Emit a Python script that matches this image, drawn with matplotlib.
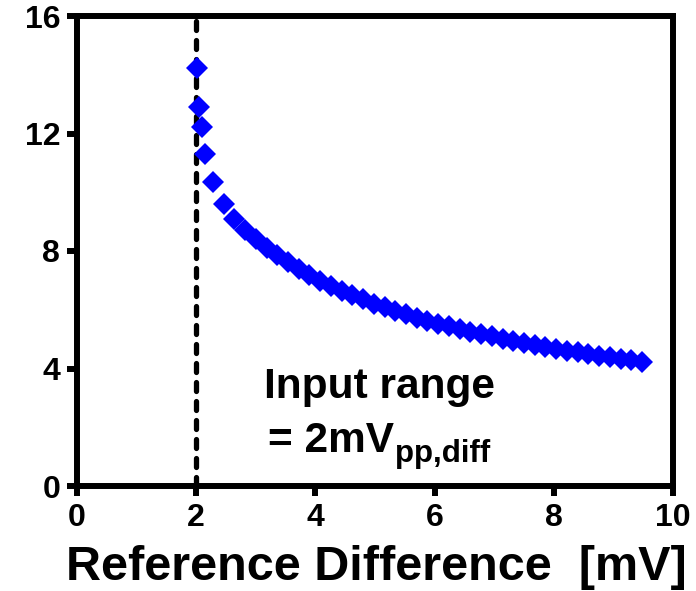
import matplotlib
matplotlib.use("Agg")
import matplotlib.pyplot as plt

plt.rcParams['font.family'] = ['Liberation Sans', 'DejaVu Sans']
plt.rcParams['font.weight'] = 'bold'

# Data
ref_diff_mv = [2.02, 2.05, 2.09, 2.15, 2.28, 2.46, 2.64, 2.82, 3.00, 3.18,
               3.36, 3.54, 3.72, 3.90, 4.08, 4.26, 4.44, 4.62, 4.80, 4.98,
               5.16, 5.34, 5.52, 5.70, 5.88, 6.06, 6.24, 6.42, 6.60, 6.78,
               6.96, 7.14, 7.32, 7.50, 7.68, 7.86, 8.04, 8.22, 8.40, 8.58,
               8.76, 8.94, 9.12, 9.30, 9.48]
values = [14.22, 12.91, 12.23, 11.30, 10.36, 9.60, 9.09, 8.71, 8.40, 8.11,
          7.85, 7.61, 7.39, 7.18, 6.99, 6.81, 6.65, 6.49, 6.35, 6.21,
          6.08, 5.96, 5.84, 5.73, 5.62, 5.52, 5.43, 5.34, 5.25, 5.17,
          5.09, 5.01, 4.94, 4.86, 4.80, 4.73, 4.67, 4.61, 4.55, 4.49,
          4.43, 4.38, 4.33, 4.28, 4.23]
input_range_mv = 2
x_ticks = [0, 2, 4, 6, 8, 10]
y_ticks = [0, 4, 8, 12, 16]

fig = plt.figure(figsize=(6.96, 5.91), dpi=100)
ax = fig.add_axes([77/696, 1 - 486/591, 596/696, 470/591])

ax.plot(ref_diff_mv, values, linestyle='none', marker='D', markersize=11.5,
        color='#0000ff', markeredgewidth=0, zorder=3)

ax.plot([input_range_mv, input_range_mv], [0, 16], color='black', lw=3.8,
        linestyle=(0, (1.7, 1.9)), dash_capstyle='round', zorder=2)

ax.set_xlim(0, 10)
ax.set_ylim(0, 16)
ax.set_xticks(x_ticks)
ax.set_yticks(y_ticks)
ax.set_xticklabels([str(t) for t in x_ticks])
ax.set_yticklabels([str(t) for t in y_ticks])
for s in ax.spines.values():
    s.set_linewidth(4.3)
ax.tick_params(direction='out', length=7, width=4.3, labelsize=23, pad=5)
for lab in ax.get_xticklabels() + ax.get_yticklabels():
    lab.set_fontweight('bold')

ax.set_xlabel('Reference Difference  [mV]', fontsize=35, fontweight='bold')
ax.xaxis.set_label_coords(0.502, -0.125)

ax.text(5.07, 3.0, 'Input range', fontsize=30.5, fontweight='bold',
        ha='center', va='baseline')
t1 = ax.text(3.2, 1.16, '= 2mV', fontsize=30.5, fontweight='bold',
             ha='left', va='baseline')
ax.annotate('pp,diff', xy=(1, 0), xycoords=t1, xytext=(1, -6),
            textcoords='offset points', fontsize=22.5, fontweight='bold',
            ha='left', va='bottom')

fig.savefig('out.png', dpi=100)
